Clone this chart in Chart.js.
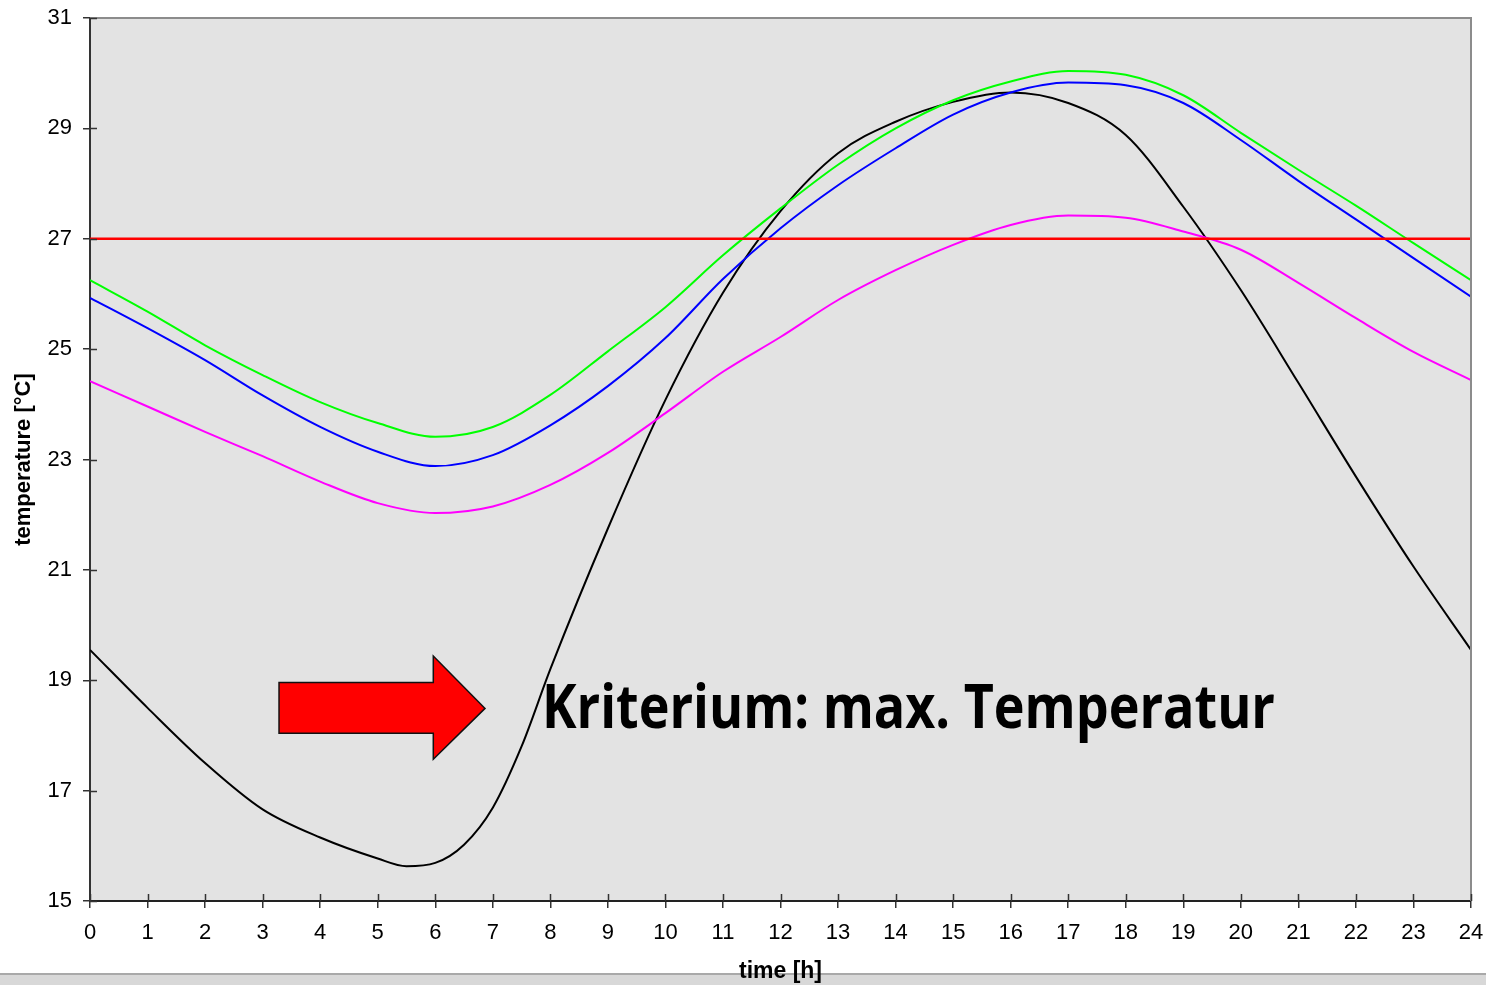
<!DOCTYPE html>
<html>
<head>
<meta charset="utf-8">
<script src="https://cdn.jsdelivr.net/npm/chart.js@4/dist/chart.umd.min.js"></script>
<style>
  html, body { margin: 0; padding: 0; background: #fff; }
  #wrap { width: 1486px; height: 985px; position: relative; }
</style>
</head>
<body>
<div id="wrap"><canvas id="c"></canvas></div>
<script>
// ---- data ----
const hours = [0,1,2,3,4,5,6,7,8,9,10,11,12,13,14,15,16,17,18,19,20,21,22,23,24];
const greenTemp = [26.25,25.68,25.07,24.53,24.04,23.66,23.41,23.59,24.17,24.96,25.76,26.70,27.55,28.34,29.00,29.51,29.85,30.04,29.97,29.60,28.92,28.25,27.60,26.92,26.25];
const blueTemp = [25.93,25.38,24.80,24.16,23.59,23.14,22.88,23.08,23.62,24.33,25.20,26.27,27.19,27.97,28.64,29.25,29.65,29.83,29.78,29.46,28.79,28.05,27.35,26.65,25.95];
const magentaTemp = [24.42,23.96,23.50,23.06,22.60,22.21,22.03,22.15,22.54,23.12,23.84,24.59,25.22,25.89,26.43,26.89,27.25,27.42,27.38,27.13,26.80,26.20,25.56,24.95,24.44];
const blackHours = [0,1,2,3,4,5,5.5,6,6.5,7,7.5,8,9,10,11,12,13,14,15,16,17,18,19,20,21,22,23,24];
const blackTemp = [19.55,18.50,17.50,16.66,16.15,15.77,15.63,15.69,16.02,16.69,17.80,19.20,21.75,24.08,26.02,27.50,28.55,29.12,29.48,29.65,29.46,28.88,27.58,26.07,24.39,22.69,21.06,19.55];
const limitHours = [0,24];
const limitTemp = [27,27];
const xTicks = {min:0, max:24, step:1};
const yTicks = {min:15, max:31, step:2};
const xTitle = 'time [h]';
const yTitle = 'temperature [°C]';
const noteText = 'Kriterium: max. Temperatur';

const pts = (xs, ys) => xs.map((x,i) => ({x:x, y:ys[i]}));

const lineDs = (label, xs, ys, color, w) => ({
  label, data: pts(xs, ys), borderColor: color, backgroundColor: color,
  borderWidth: w, pointRadius: 0, fill: false, cubicInterpolationMode: 'monotone'
});

const deco = {
  id: 'deco',
  beforeDraw(chart) {
    const {ctx, chartArea: a} = chart;
    ctx.save();
    ctx.fillStyle = '#ffffff';
    ctx.fillRect(0, 0, chart.width, chart.height);
    ctx.fillStyle = '#d8d8d8';
    ctx.fillRect(0, 975, chart.width, 10);
    ctx.fillStyle = '#a9a9a9';
    ctx.fillRect(0, 973, chart.width, 2);
    ctx.fillStyle = '#e3e3e3';
    ctx.fillRect(a.left, a.top, a.right - a.left, a.bottom - a.top);
    ctx.restore();
  },
  afterDraw(chart) {
    const {ctx, chartArea: a, scales} = chart;
    const xs = scales.x, ys = scales.y;
    ctx.save();
    // top & right frame
    ctx.strokeStyle = '#8c8c8c';
    ctx.lineWidth = 2;
    ctx.beginPath();
    ctx.moveTo(a.left, a.top); ctx.lineTo(a.right, a.top); ctx.lineTo(a.right, a.bottom);
    ctx.stroke();
    // inner tick halves
    ctx.strokeStyle = '#333';
    ctx.lineWidth = 1.5;
    ctx.beginPath();
    for (let v = yTicks.min; v <= yTicks.max; v += yTicks.step) {
      const py = Math.round(ys.getPixelForValue(v)) + 0.5;
      ctx.moveTo(a.left, py); ctx.lineTo(a.left + 7, py);
    }
    for (let v = xTicks.min; v <= xTicks.max; v += xTicks.step) {
      const px = Math.round(xs.getPixelForValue(v)) + 0.5;
      ctx.moveTo(px, a.bottom); ctx.lineTo(px, a.bottom - 7);
    }
    ctx.stroke();
    // arrow (in data coordinates)
    const P = (h, t) => [xs.getPixelForValue(h), ys.getPixelForValue(t)];
    const arrow = [P(3.285,18.96), P(5.966,18.96), P(5.966,19.44), P(6.865,18.49), P(5.966,17.57), P(5.966,18.04), P(3.285,18.04)];
    ctx.beginPath();
    arrow.forEach((p,i) => i ? ctx.lineTo(p[0],p[1]) : ctx.moveTo(p[0],p[1]));
    ctx.closePath();
    ctx.fillStyle = '#ff0000';
    ctx.fill();
    ctx.strokeStyle = '#111';
    ctx.lineWidth = 1.5;
    ctx.lineJoin = 'miter';
    ctx.stroke();
    // note text
    const [tx, ty] = P(7.855, 18.135);
    ctx.font = 'bold 60px "Open Sans", "Noto Sans", sans-serif';
    ctx.fillStyle = '#000';
    ctx.textBaseline = 'alphabetic';
    const w = ctx.measureText(noteText).width;
    const target = 733;
    ctx.translate(tx, ty);
    ctx.scale(target / w, 1);
    ctx.fillText(noteText, 0, 0);
    ctx.restore();
  }
};

new Chart(document.getElementById('c'), {
  type: 'line',
  data: {
    datasets: [
      lineDs('limit', limitHours, limitTemp, '#ff0000', 2.5),
      lineDs('green', hours, greenTemp, '#00ff00', 2),
      lineDs('blue', hours, blueTemp, '#0000ff', 2),
      lineDs('magenta', hours, magentaTemp, '#ff00ff', 2),
      lineDs('black', blackHours, blackTemp, '#000000', 2)
    ]
  },
  options: {
    responsive: true,
    maintainAspectRatio: false,
    animation: false,
    devicePixelRatio: 1,
    layout: { padding: { top: 18, right: 15, left: 0, bottom: 0 } },
    plugins: { legend: { display: false }, tooltip: { enabled: false } },
    scales: {
      x: {
        type: 'linear', min: xTicks.min, max: xTicks.max,
        ticks: { stepSize: xTicks.step, autoSkip: false, maxRotation: 0, color: '#000',
                 font: { family: '"Liberation Sans", Arial, sans-serif', size: 22 }, padding: 12 },
        grid: { drawOnChartArea: false, drawTicks: true, tickLength: 7, color: '#333', lineWidth: 1.5 },
        border: { color: '#222', width: 2 },
        title: { display: true, text: xTitle, color: '#000',
                 font: { family: '"Liberation Sans", Arial, sans-serif', size: 23, weight: 'bold' },
                 padding: { top: 0, bottom: 0 } },
        afterFit: (s) => { s.height = 84; s.paddingLeft = 0; s.paddingRight = 0; }
      },
      y: {
        type: 'linear', min: yTicks.min, max: yTicks.max,
        ticks: { stepSize: yTicks.step, color: '#000',
                 font: { family: '"Liberation Sans", Arial, sans-serif', size: 22 }, padding: 11 },
        grid: { drawOnChartArea: false, drawTicks: true, tickLength: 7, color: '#333', lineWidth: 1.5 },
        border: { color: '#333', width: 2 },
        title: { display: true, text: yTitle, color: '#000',
                 font: { family: '"Liberation Sans", Arial, sans-serif', size: 22, weight: 'bold' },
                 padding: { top: 11, bottom: 0 } },
        afterFit: (s) => { s.width = 90; s.paddingTop = 0; s.paddingBottom = 0; }
      }
    }
  },
  plugins: [deco]
});
</script>
</body>
</html>
